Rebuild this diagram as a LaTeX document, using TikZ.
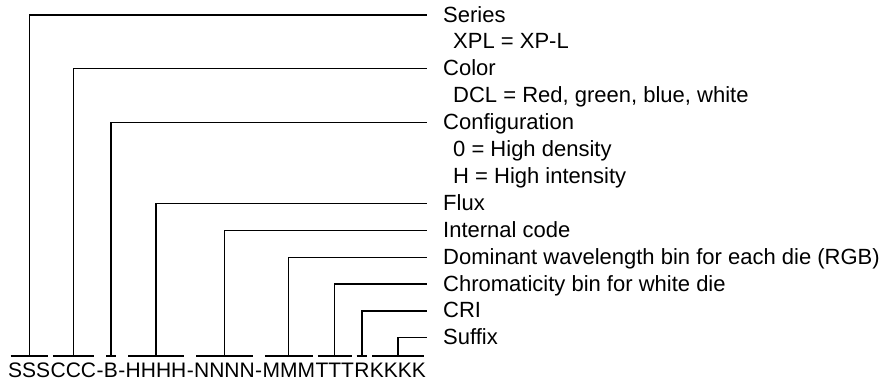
\documentclass[tikz,border=0pt]{standalone}
\usepackage{fontspec}
\setmainfont{Liberation Sans}
\usetikzlibrary{positioning}
\tikzset{
  code/.style={inner sep=0pt, text height=15pt, text depth=0pt, anchor=base west,
               font=\fontsize{21}{25}\selectfont},
  lbl/.style={inner sep=0pt, text height=16pt, text depth=2pt, anchor=base west,
              font=\fontsize{22}{26}\selectfont},
  lead/.style={line width=1.2pt, color=black},
}

\begin{document}
\begin{tikzpicture}[x=1pt,y=-1pt]
\useasboundingbox (0,0) rectangle (885,386);
% part number, one node per field
\node[code] (sss) at (8,377) {SSS};
\node[code] (ccc) at (sss.base east) {CCC};
\node[code] (dasha) at (ccc.base east) {-};
\node[code] (bb) at (dasha.base east) {B};
\node[code] (dashb) at (bb.base east) {-};
\node[code] (hhhh) at (dashb.base east) {HHHH};
\node[code] (dashc) at (hhhh.base east) {-};
\node[code] (nnnn) at (dashc.base east) {NNNN};
\node[code] (dashd) at (nnnn.base east) {-};
\node[code] (mmm) at (dashd.base east) {MMM};
\node[code] (ttt) at (mmm.base east) {TTT};
\node[code] (rr) at (ttt.base east) {R};
\node[code] (kkkk) at (rr.base east) {KKKK};
% field descriptions
\node[lbl] (series) at (443,22) {Series};
\node[lbl] (seriesval) at (453,48.9) {XPL = XP-L};
\node[lbl] (color) at (443,75.8) {Color};
\node[lbl] (colorval) at (453,102.7) {DCL = Red, green, blue, white};
\node[lbl] (config) at (443,129.6) {Configuration};
\node[lbl] (configa) at (453,156.5) {0 = High density};
\node[lbl] (configb) at (453,183.4) {H = High intensity};
\node[lbl] (flux) at (443,210.3) {Flux};
\node[lbl] (intcode) at (443,237.2) {Internal code};
\node[lbl] (domwl) at (443,264.1) {Dominant wavelength bin for each die (RGB)};
\node[lbl] (chrom) at (443,291) {Chromaticity bin for white die};
\node[lbl] (cri) at (443,317.9) {CRI};
\node[lbl] (suffix) at (443,344.8) {Suffix};
% bars over the fields and leaders to the descriptions
\foreach \g/\l in {sss/series,ccc/color,bb/config,hhhh/flux,nnnn/intcode,mmm/domwl,ttt/chrom,rr/cri,kkkk/suffix}{
  \draw[lead] ([xshift=2.5pt,yshift=21pt]\g.base west) -- ([xshift=-2.5pt,yshift=21pt]\g.base east);
  \draw[lead] ([yshift=21pt]\g.base) |- ([xshift=-16pt]\l.west);
}
\end{tikzpicture}
\end{document}
